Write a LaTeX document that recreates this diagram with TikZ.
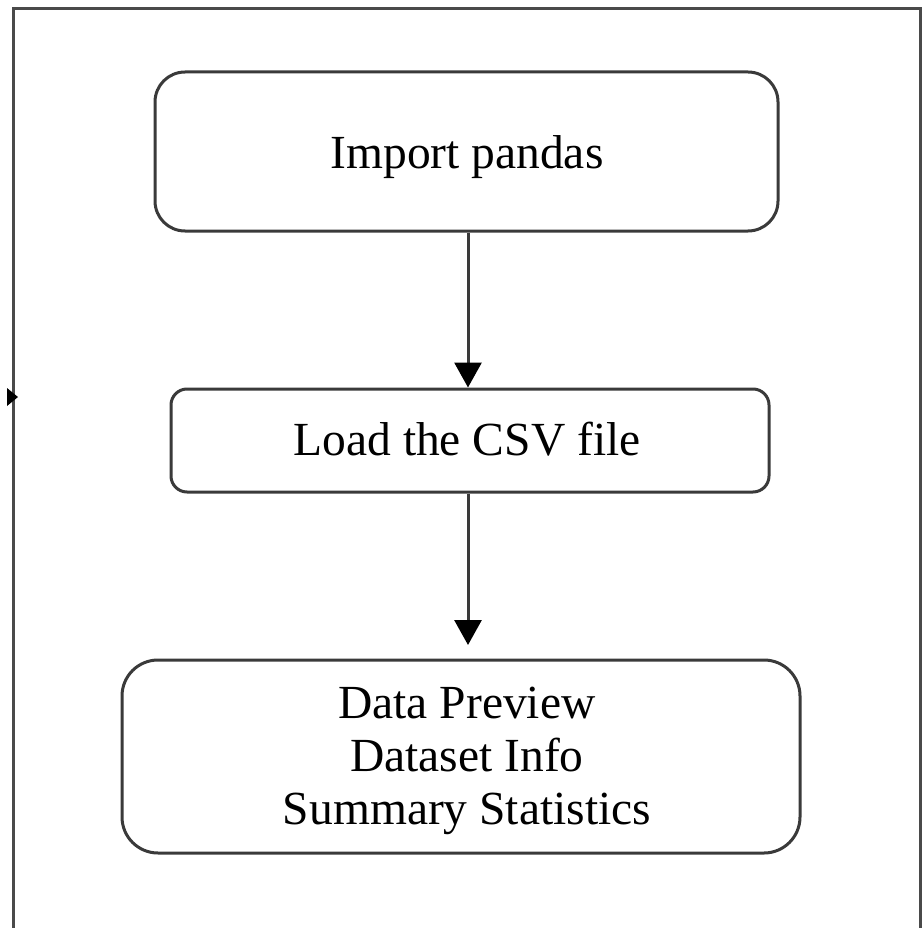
\documentclass[tikz,border=0pt]{standalone}
\usepackage{fontspec}
\setmainfont{Liberation Serif}
\usetikzlibrary{arrows.meta}
\definecolor{edge}{HTML}{3A3A3A}
\definecolor{frame}{HTML}{4A4A4A}
\tikzset{
  flowbox/.style={draw=edge, line width=3pt, fill=white, inner sep=0pt},
  flowtext/.style={font=\fontsize{47.5}{53}\selectfont, align=center, inner sep=0pt},
  flowarrow/.style={draw=edge, line width=3pt, -{Triangle[length=25pt,width=27pt,color=black]}},
}
\begin{document}
\begin{tikzpicture}[x=1pt,y=-1pt]
\useasboundingbox (0,0) rectangle (922,928);
% outer frame
\draw[frame, line width=3pt] (13,928) -- (13,9) -- (920,9) -- (920,928);
\fill[black] (7,388) -- (18,397) -- (7,406) -- cycle;
% boxes
\node[flowbox, rounded corners=30pt, minimum width=623pt, minimum height=159pt] (a) at (466.5,151.5) {};
\node[flowtext] (at) at (467,157) {Import pandas};
\node[flowbox, rounded corners=16pt, minimum width=598pt, minimum height=103pt] (b) at (470,440.5) {};
\node[flowtext] (bt) at (467,439) {Load the CSV file};
\node[flowbox, rounded corners=36pt, minimum width=678pt, minimum height=193pt] (c) at (461,756.5) {};
\node[flowtext] (ct) at (467,761) {Data Preview\\Dataset Info\\Summary Statistics};
% arrows
\coordinate (cend) at (468,645);
\draw[flowarrow] (a.south -| 468,0) -- (b.north -| 468,0);
\draw[flowarrow] (b.south -| 468,0) -- (cend);
\end{tikzpicture}
\end{document}
